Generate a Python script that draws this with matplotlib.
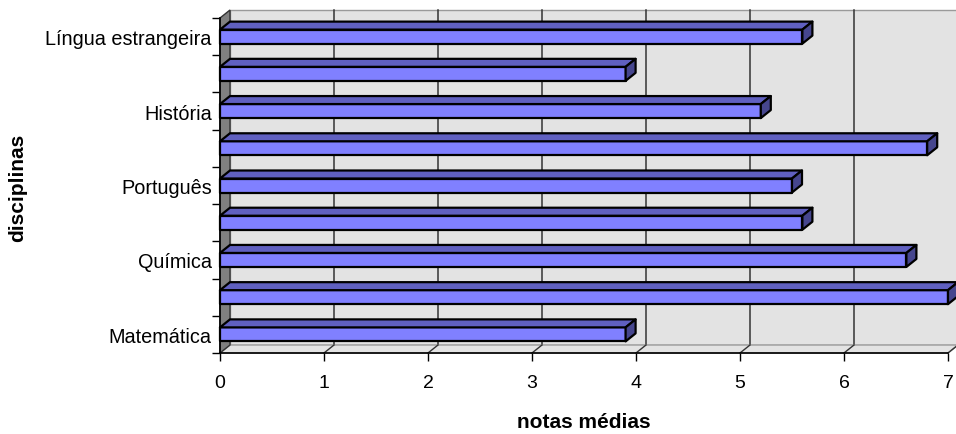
import matplotlib
matplotlib.use("Agg")
import matplotlib.pyplot as plt
from matplotlib.patches import Polygon
from matplotlib.ticker import FixedLocator

plt.rcParams['font.family'] = ['Liberation Sans', 'DejaVu Sans']

# disciplinas (de baixo para cima) e notas médias
disciplinas = ['Matemática', 'Física', 'Química', 'Biologia', 'Português',
               'Literatura', 'História', 'Geografia', 'Língua estrangeira']
notas = [3.9, 7.0, 6.6, 5.6, 5.5, 6.8, 5.2, 3.9, 5.6]
xticks = [0, 1, 2, 3, 4, 5, 6, 7]

W, H = 956, 435
fig = plt.figure(figsize=(W / 100, H / 100), dpi=100)
ax_l, ax_b, ax_w, ax_h = 220, 81, 728, 335
ax = fig.add_axes([ax_l / W, ax_b / H, ax_w / W, ax_h / H])

n = len(disciplinas)
xmax = xticks[-1]
ax.set_xlim(0, xmax)
ax.set_ylim(0, n)

# profundidade 3D em unidades de dados (10 px para a direita, 8 px para cima)
dx = 10 / (ax_w / xmax)
dy = 8 / (ax_h / n)
bh = 14 / (ax_h / n)

face = '#8080FF'
topo = '#6060C0'
lado = '#46468E'

# parede do fundo
ax.add_patch(Polygon([(dx, dy), (xmax + dx, dy), (xmax + dx, n + dy), (dx, n + dy)],
                     closed=True, fc='#E3E3E3', ec='#9A9A9A', lw=1, clip_on=False, zorder=1))
# linhas de grade na parede e no chão
for k in xticks[1:]:
    ax.plot([k + dx, k + dx], [dy, n + dy], color='#333333', lw=1.1, clip_on=False, zorder=2)
# chão
ax.add_patch(Polygon([(0, 0), (xmax, 0), (xmax + dx, dy), (dx, dy)],
                     closed=True, fc='#E3E3E3', ec='#9A9A9A', lw=1, clip_on=False, zorder=2))
for k in xticks[1:]:
    ax.plot([k, k + dx], [0, dy], color='#333333', lw=1, clip_on=False, zorder=2.5)
# parede lateral
ax.add_patch(Polygon([(0, 0), (dx, dy), (dx, n + dy), (0, n)],
                     closed=True, fc='#808080', ec='#333333', lw=1, clip_on=False, zorder=3))

# barras 3D
for i, v in enumerate(notas):
    y0 = i + 0.5 - bh / 2
    y1 = i + 0.5 + bh / 2
    kw = dict(closed=True, ec='black', lw=1.6, joinstyle='round', clip_on=False, zorder=5)
    ax.add_patch(Polygon([(0, y0), (v, y0), (v, y1), (0, y1)], fc=face, **kw))
    ax.add_patch(Polygon([(0, y1), (v, y1), (v + dx, y1 + dy), (dx, y1 + dy)], fc=topo, **kw))
    ax.add_patch(Polygon([(v, y0), (v + dx, y0 + dy), (v + dx, y1 + dy), (v, y1)], fc=lado, **kw))

# eixos
for s in ['top', 'right']:
    ax.spines[s].set_visible(False)
for s in ['left', 'bottom']:
    ax.spines[s].set_color('black')
    ax.spines[s].set_linewidth(1.2)
    ax.spines[s].set_zorder(6)
ax.set_facecolor('none')

ax.set_xticks(xticks)
ax.set_xticklabels([str(t) for t in xticks], fontsize=14)
ax.tick_params(axis='x', direction='out', length=6, width=1, pad=9)

ax.yaxis.set_major_locator(FixedLocator(range(n + 1)))
ax.yaxis.set_minor_locator(FixedLocator([i + 0.5 for i in range(0, n, 2)]))
ax.set_yticklabels([], minor=False)
ax.set_yticklabels(disciplinas[::2], minor=True, fontsize=14.3)
ax.tick_params(axis='y', which='major', direction='out', length=6, width=1)
ax.tick_params(axis='y', which='minor', length=0, pad=6)

fig.text(584 / W, 1 - 423 / H, 'notas médias', ha='center', va='center',
         fontsize=15, fontweight='bold')
fig.text(18 / W, 1 - 188 / H, 'disciplinas', ha='center', va='center',
         rotation=90, fontsize=15, fontweight='bold')

fig.savefig('out.png', dpi=100)
